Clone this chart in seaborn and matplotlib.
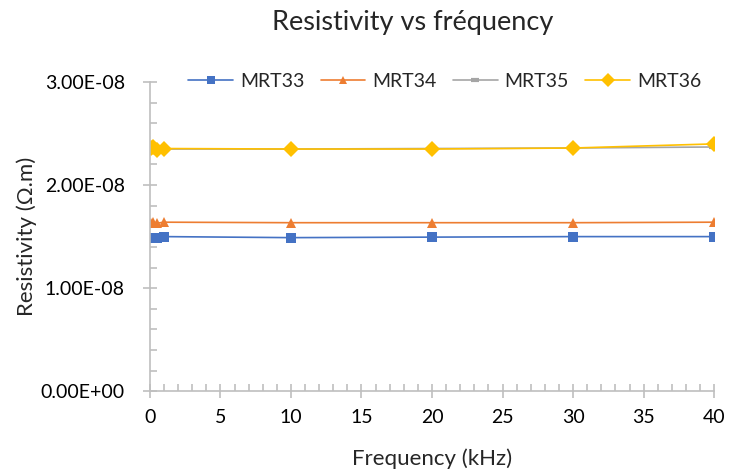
import matplotlib
matplotlib.use("Agg")
import matplotlib.pyplot as plt
import seaborn as sns
import pandas as pd
from matplotlib.ticker import MultipleLocator, FuncFormatter

freq = [0.1, 0.25, 0.5, 1, 10, 20, 30, 40]
mrt33 = [1.49e-8, 1.49e-8, 1.49e-8, 1.50e-8, 1.49e-8, 1.495e-8, 1.50e-8, 1.50e-8]
mrt34 = [1.63e-8, 1.64e-8, 1.63e-8, 1.64e-8, 1.635e-8, 1.635e-8, 1.635e-8, 1.64e-8]
mrt35 = [2.35e-8, 2.35e-8, 2.35e-8, 2.35e-8, 2.35e-8, 2.355e-8, 2.36e-8, 2.37e-8]
mrt36 = [2.36e-8, 2.37e-8, 2.345e-8, 2.355e-8, 2.35e-8, 2.35e-8, 2.36e-8, 2.40e-8]
names = ["MRT33", "MRT34", "MRT35", "MRT36"]
colors = ["#4472C4", "#ED7D31", "#A5A5A5", "#FFC000"]
markers = ["s", "^", "_", "D"]
sizes = [7, 7.5, 7, 8.5]

rows = []
for n, vals in zip(names, [mrt33, mrt34, mrt35, mrt36]):
    for f, v in zip(freq, vals):
        rows.append({"Frequency": f, "Resistivity": v, "Series": n})
df = pd.DataFrame(rows)

sns.set_style("white")
plt.rcParams['font.family'] = ['Lato', 'DejaVu Sans']

fig = plt.figure(figsize=(7.31, 4.69), dpi=100)
ax = fig.add_axes([0.205, 0.166, 0.772, 0.659])

for n, c, m, s in zip(names, colors, markers, sizes):
    sub = df[df["Series"] == n]
    sns.lineplot(data=sub, x="Frequency", y="Resistivity", ax=ax, color=c,
                 marker=m, markersize=s, markeredgecolor=c, linewidth=1.2,
                 label=n, markeredgewidth=0 if m != "_" else 3)

ax.set_xlim(0, 40)
ax.set_ylim(0, 3e-8)
ax.xaxis.set_major_locator(MultipleLocator(5))
ax.xaxis.set_minor_locator(MultipleLocator(1))
ax.yaxis.set_major_locator(MultipleLocator(1e-8))
ax.yaxis.set_minor_locator(MultipleLocator(0.2e-8))

def yfmt(v, pos):
    if abs(v) < 1e-20:
        return "0.00E+00"
    return "%.2E" % v
ax.yaxis.set_major_formatter(FuncFormatter(yfmt))

for side in ["top", "right"]:
    ax.spines[side].set_visible(False)
for side in ["left", "bottom"]:
    ax.spines[side].set_color("#BFBFBF")
    ax.spines[side].set_linewidth(1.2)

ax.tick_params(axis="both", which="both", bottom=True, left=True)
ax.tick_params(axis="both", which="major", direction="inout", length=10, width=1.2,
               color="#BFBFBF", labelsize=14, labelcolor="#000000")
ax.tick_params(axis="both", which="minor", direction="in", length=5, width=1.2,
               color="#BFBFBF")
ax.tick_params(axis="x", which="major", pad=8)
ax.tick_params(axis="y", which="major", pad=13)

ax.set_xlabel("Frequency (kHz)", fontsize=16, labelpad=16)
ax.set_ylabel("Resistivity (Ω.m)", fontsize=16, labelpad=3)
fig.text(0.564, 0.978, "Resistivity vs fréquency", fontsize=19.5, ha="center", va="top")

leg = ax.legend(loc="lower left", bbox_to_anchor=(0.068, 0.975), ncol=4, frameon=False,
                fontsize=14, handlelength=2.3, columnspacing=0.85, handletextpad=0.35,
                markerscale=0.85, borderaxespad=0, borderpad=0)

fig.savefig("out.png", dpi=100)
